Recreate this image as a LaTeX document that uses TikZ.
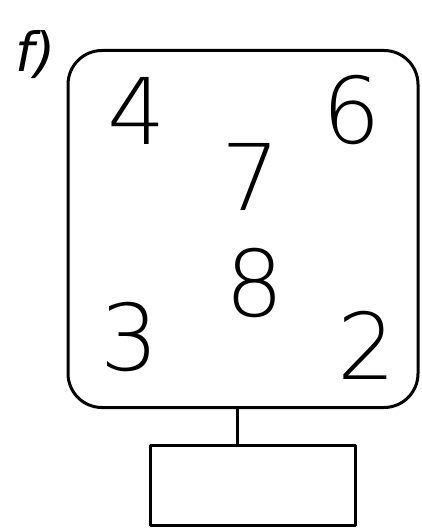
\documentclass[tikz,border=0pt]{standalone}
\usepackage{fontspec}
\setmainfont{DejaVu Sans}
\begin{document}
\begin{tikzpicture}[x=1pt,y=-1pt,
  outline/.style={draw=black,line width=3pt,line cap=round,line join=round},
  digit/.style={font=\fontsize{92}{92}\selectfont\fontspec{DejaVu Sans ExtraLight}},
  lbl/.style={font=\fontsize{54}{54}\selectfont\itshape}]
\useasboundingbox (0,0) rectangle (422,529);
\node[outline,rounded corners=34pt,minimum width=350pt,minimum height=357pt,inner sep=0pt] (tv) at (243,229) {};
\node[outline,minimum width=205pt,minimum height=80pt,inner sep=0pt] (base) at (253,485) {};
\draw[outline] (tv.south -| 237,0) -- (base.north -| 237,0);
\node[digit] (d4) at (137,111) {4};
\node[digit] (d6) at (352,110) {6};
\node[digit] (d7) at (251,177) {7};
\node[digit] (d8) at (255,283) {8};
\node[digit] (d3) at (130,337) {3};
\node[digit] (d2) at (367,345) {2};
\node[lbl] (f) at (36,55) {f)};
\end{tikzpicture}
\end{document}
